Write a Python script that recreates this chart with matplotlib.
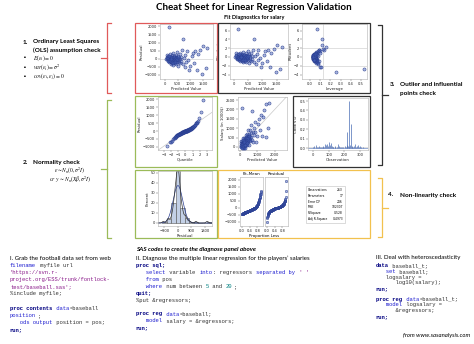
import matplotlib
matplotlib.use('Agg')
import matplotlib.pyplot as plt
import matplotlib.patches as mpatches
from matplotlib.lines import Line2D
import numpy as np
from statistics import NormalDist

W, H = 474, 344

pred = [60, 80, 95, 110, 120, 130, 140, 150, 155, 165, 170, 180, 190, 200, 205, 215, 225, 230, 240, 250,
        255, 265, 270, 280, 290, 300, 305, 315, 320, 330, 340, 350, 360, 370, 380, 390, 400, 410, 420, 430,
        440, 450, 460, 470, 480, 490, 500, 515, 530, 545, 560, 575, 590, 610, 630, 650, 670, 700, 720, 750,
        780, 800, 830, 860, 900, 950, 1000, 1050, 1100, 1150, 1200, 1250, 1300, 1400, 1480, 1500, 1620, 1680,
        45, 70, 100, 135, 185, 210, 235, 260, 285, 310, 335, 355, 385, 415, 445, 475, 505, 225, 175, 320, 255, 395]
resid = [250, 120, -40, 30, -90, 180, -150, 1950, 60, -20, -220, 90, -110, 10, 280, -60, -300, 140, -170, 40,
         -80, 220, -250, -10, 110, -140, -360, 60, -40, 330, -200, 0, -100, 170, -280, 80, -60, -160, 250, -20,
         -330, 120, -120, 30, -230, 400, -70, 180, -420, 60, -180, -30, 300, -280, 90, -130, 520, 1200, -350, 40,
         -520, 230, -200, 480, -80, -700, -420, 150, 380, -250, 500, -680, 300, 550, -970, 800, -600, 650,
         -30, 40, -130, 20, -40, -140, 70, -30, -190, 20, -70, 110, -20, 60, -90, -10, 100, 120, 200, -240, 0, -190]
lev = [0.06, 0.05, 0.04, 0.05, 0.04, 0.06, 0.05, 0.07, 0.03, 0.04, 0.06, 0.04, 0.03, 0.05, 0.07, 0.04, 0.05, 0.03, 0.04, 0.05,
       0.06, 0.04, 0.05, 0.03, 0.04, 0.05, 0.07, 0.04, 0.03, 0.06, 0.05, 0.04, 0.06, 0.05, 0.04, 0.03, 0.05, 0.04, 0.06, 0.05,
       0.07, 0.04, 0.05, 0.03, 0.06, 0.08, 0.05, 0.04, 0.06, 0.05, 0.07, 0.04, 0.06, 0.05, 0.08, 0.06, 0.09, 0.12, 0.07, 0.05,
       0.08, 0.06, 0.07, 0.09, 0.06, 0.10, 0.08, 0.07, 0.10, 0.09, 0.14, 0.11, 0.10, 0.13, 0.25, 0.12, 0.53, 0.16,
       0.04, 0.03, 0.05, 0.03, 0.04, 0.03, 0.04, 0.03, 0.05, 0.04, 0.03, 0.04, 0.05, 0.04, 0.05, 0.04, 0.05, 0.03, 0.05, 0.04, 0.03, 0.04]

cook_obs = [3, 8, 14, 19, 25, 31, 37, 42, 48, 55, 61, 66, 72, 78, 84, 90, 95, 101, 106, 112, 118, 124, 130, 137,
            143, 149, 155, 161, 167, 173, 179, 185, 191, 197, 203, 209, 214, 218, 223, 228, 232, 236, 241, 246,
            251, 257, 263, 269, 275, 281, 287, 293, 299, 305, 311, 317]
cook_d = [0.01, 0.02, 0.005, 0.03, 0.01, 0.008, 0.02, 0.01, 0.015, 0.006, 0.01, 0.02, 0.01, 0.04, 0.03, 0.045,
          0.02, 0.06, 0.03, 0.05, 0.02, 0.01, 0.015, 0.02, 0.01, 0.005, 0.01, 0.04, 0.02, 0.01, 0.008, 0.015,
          0.01, 0.005, 0.02, 0.01, 0.03, 0.17, 0.02, 0.01, 0.50, 0.03, 0.26, 0.02, 0.01, 0.01, 0.02, 0.04,
          0.01, 0.02, 0.03, 0.01, 0.02, 0.01, 0.005, 0.01]

stat_names = ['Observations', 'Parameters', 'Error DF', 'MSE', 'R-Square', 'Adj R-Square']
stat_vals = ['263', '17', '246', '102307', '0.528', '0.4973']
n_par = 17
mse = 102307

plt.rcParams['mathtext.fontset'] = 'stix'
TXT = 'Lato'
MONO = 'Liberation Mono'
BLUE_E = '#2b3f91'
BLUE_F = (0.27, 0.38, 0.72, 0.45)
RED, GREEN, GOLD, DARK = '#e05a5a', '#9bbb59', '#f2c14e', '#333333'

fig = plt.figure(figsize=(4.74, 3.44), dpi=100)


def fx(x):
    return x / W


def fy(y):
    return 1 - y / H


def panel(x0, y0, x1, y1, xlim, ylim, xt, yt, xl='', yl=''):
    ax = fig.add_axes([fx(x0), fy(y1), (x1 - x0) / W, (y1 - y0) / H])
    ax.set_xlim(*xlim)
    ax.set_ylim(*ylim)
    ax.set_xticks(xt)
    ax.set_yticks(yt)
    ax.tick_params(labelsize=2.6, length=1.2, width=0.3, pad=0.8, colors='#555555', labelcolor='#222222')
    for s in ax.spines.values():
        s.set_linewidth(0.4)
        s.set_color('#b0b0b0')
    if xl:
        ax.set_xlabel(xl, fontsize=2.8, labelpad=0.8, color='#222222')
    if yl:
        ax.set_ylabel(yl, fontsize=2.8, labelpad=0.8, color='#222222')
    return ax


def dots(ax, x, y, s=5):
    ax.scatter(x, y, s=s, facecolor=BLUE_F, edgecolor=BLUE_E, linewidth=0.35, zorder=3)


def box(x0, y0, x1, y1, color, lw=0.9):
    fig.patches.append(mpatches.Rectangle((fx(x0), fy(y1)), (x1 - x0) / W, (y1 - y0) / H,
                                          transform=fig.transFigure, fill=False, edgecolor=color, linewidth=lw))


def seg(xs, ys, color, lw=0.9):
    fig.add_artist(Line2D([fx(v) for v in xs], [fy(v) for v in ys], color=color, linewidth=lw))


def bracket(x, y0, y1, color, side):
    # side=-1: arms go right, nub to the left ; side=1: arms go left, nub to the right
    arm = -4 * side
    seg([x + arm, x, x, x + arm], [y0, y0, y1, y1], color)
    m = (y0 + y1) / 2
    seg([x, x + 6 * side], [m, m], color)


pred = np.array(pred, float)
resid = np.array(resid, float)
lev = np.array(lev, float)
n = len(resid)
rstud = resid / np.sqrt(mse * (1 - lev))
salary = pred + resid
sigma = np.sqrt(mse)

# titles
fig.text(fx(254), fy(7), 'Cheat Sheet for Linear Regression Validation', ha='center', va='center',
         fontsize=7, fontweight='bold', family=TXT)
fig.text(fx(254), fy(18), 'Fit Diagnostics for salary', ha='center', va='center',
         fontsize=4, fontweight='bold', family=TXT)

# row 1
ax = panel(160, 24, 213, 79, (-200, 1900), (-1250, 2150), [0, 500, 1000, 1500],
           [-1000, -500, 0, 500, 1000, 1500, 2000], 'Predicted Value', 'Residual')
ax.axhline(0, color='#c8c8c8', lw=0.4)
dots(ax, pred, resid)

ax = panel(230, 24, 288, 79, (-140, 1900), (-5, 7.5), [0, 500, 1000, 1500],
           [-4, -2, 0, 2, 4, 6], 'Predicted Value', 'RStudent')
for v in (-2, 2):
    ax.axhline(v, color='#c8c8c8', lw=0.4)
dots(ax, pred, rstud)

ax = panel(302, 24, 367, 79, (-0.08, 0.56), (-5, 7.5), [0, 0.1, 0.2, 0.3, 0.4, 0.5],
           [-4, -2, 0, 2, 4, 6], 'Leverage', 'RStudent')
for v in (-2, 2):
    ax.axhline(v, color='#c8c8c8', lw=0.4)
ax.axvline(2 * n_par / 263, color='#c8c8c8', lw=0.4)
dots(ax, lev, rstud)

# row 2
q = np.array([NormalDist().inv_cdf((i + 1 - 0.375) / (n + 0.25)) for i in range(n)])
ax = panel(158, 97, 212, 150, (-3.8, 3.7), (-1200, 2150), [-3, -2, -1, 0, 1, 2, 3],
           [-1000, -500, 0, 500, 1000, 1500, 2000], 'Quantile', 'Residual')
ax.plot([-3.8, 3.7], [-3.8 * sigma, 3.7 * sigma], color='#c8c8c8', lw=0.5)
dots(ax, q, np.sort(resid))

ax = panel(238, 97, 287, 150, (-100, 2700), (-160, 2660), [0, 1000, 2000],
           [0, 500, 1000, 1500, 2000, 2500], 'Predicted Value', 'Salary (in 1000$)')
ax.plot([-100, 2700], [-100, 2700], color='#c8c8c8', lw=0.5)
dots(ax, pred, salary)

ax = panel(308, 98, 368, 150, (-32, 350), (-0.021, 0.532), [0, 100, 200, 300],
           [0.0, 0.1, 0.2, 0.3, 0.4, 0.5], 'Observation', "Cook's D")
ax.yaxis.set_major_formatter(matplotlib.ticker.FormatStrFormatter('%.1f'))
ax.axhline(4 / 263, color='#c8c8c8', lw=0.4)
ax.axhline(0, color='#4a6db5', lw=0.4)
ax.vlines(cook_obs, 0, cook_d, color='#4a6db5', lw=0.5)

# row 3
edges = np.arange(-1050, 2251, 300)
ax = panel(158, 171, 212, 226, (-1330, 2270), (-3, 52), [-900, 0, 900, 1800],
           [0, 10, 20, 30, 40, 50], 'Residual', 'Percent')
ax.hist(resid, bins=edges, weights=np.full(n, 100.0 / n), facecolor='#c3d0e6', edgecolor='#555555', linewidth=0.4)
xs = np.linspace(-1330, 2270, 300)
ax.plot(xs, 300 * 100 * np.exp(-0.5 * (xs / sigma) ** 2) / (sigma * np.sqrt(2 * np.pi)), color='#2b3f91', lw=0.5)
bw = 0.9 * min(resid.std(), (np.percentile(resid, 75) - np.percentile(resid, 25)) / 1.34) * n ** -0.2
kde = np.exp(-0.5 * ((xs[:, None] - resid[None, :]) / bw) ** 2).sum(1) / (n * bw * np.sqrt(2 * np.pi))
ax.plot(xs, 300 * 100 * kde, color='#333333', lw=0.5)

fit_mean = np.sort(pred - salary.mean())
prop = (np.arange(n) + 0.5) / n
ax = panel(240, 177, 263, 226, (-0.1, 1.1), (-1290, 2210), [0, 0.4, 0.8],
           [-1000, -500, 0, 500, 1000, 1500, 2000])
ax.xaxis.set_major_formatter(matplotlib.ticker.FormatStrFormatter('%.1f'))
dots(ax, prop, fit_mean, s=3)
ax.set_title('Fit\u2013Mean', fontsize=2.9, pad=1.5)
ax = panel(265, 177, 288, 226, (-0.1, 1.1), (-1290, 2210), [0, 0.4, 0.8], [])
ax.xaxis.set_major_formatter(matplotlib.ticker.FormatStrFormatter('%.1f'))
dots(ax, prop, np.sort(resid), s=3)
ax.set_title('Residual', fontsize=2.9, pad=1.5)
fig.text(fx(264), fy(236), 'Proportion Less', ha='center', va='center', fontsize=2.8)

box(306, 186, 345, 223, '#c0c0c0', lw=0.4)
for i, (nm, v) in enumerate(zip(stat_names, stat_vals)):
    yy = 190 + i * 5.8
    fig.text(fx(308), fy(yy), nm, fontsize=2.2, va='center')
    fig.text(fx(343), fy(yy), v, fontsize=2.2, va='center', ha='right')

# coloured frames and brackets
box(135, 23, 217, 93, RED)
box(218, 23, 370, 93, DARK)
box(135, 96, 217, 167, GREEN)
box(293, 96, 370, 167, DARK)
box(135, 170, 217, 238, GREEN)
box(218, 170, 370, 238, GOLD)
bracket(107, 23, 93, RED, -1)
bracket(107, 100, 238, GREEN, -1)
bracket(382, 25, 165, DARK, 1)
bracket(382, 178, 237, GOLD, 1)

# left annotations
fig.text(fx(23), fy(42), '1.', fontsize=4.6, fontweight='bold', va='center', family=TXT)
fig.text(fx(33), fy(42), 'Ordinary Least Squares', fontsize=4.6, fontweight='bold', va='center', family=TXT)
fig.text(fx(33), fy(50), '(OLS) assumption check', fontsize=4.6, fontweight='bold', va='center', family=TXT)
for yy, s in [(58, r'$E(\varepsilon_i) = 0$'), (67.2, r'$var(\varepsilon_i) = \sigma^2$'),
              (76.4, r'$cov(\varepsilon_i, \varepsilon_j) = 0$')]:
    fig.text(fx(23), fy(yy), '\u2022', fontsize=4.6, va='center')
    fig.text(fx(33), fy(yy), s, fontsize=4.1, va='center')
fig.text(fx(23), fy(163), '2.', fontsize=4.6, fontweight='bold', va='center', family=TXT)
fig.text(fx(33), fy(163), 'Normality check', fontsize=4.6, fontweight='bold', va='center', family=TXT)
fig.text(fx(70), fy(170.5), r'$\varepsilon \sim N_n(0, \sigma^2 I)$', fontsize=4.0, ha='center', va='center')
fig.text(fx(70), fy(179), r'$or\ y\ \sim N_n(X\beta, \sigma^2 I)$', fontsize=4.0, ha='center', va='center')

fig.text(fx(390), fy(85), '3.', fontsize=4.6, fontweight='bold', va='center', family=TXT)
fig.text(fx(400), fy(85), 'Outlier and influential', fontsize=4.6, fontweight='bold', va='center', family=TXT)
fig.text(fx(400), fy(94), 'points check', fontsize=4.6, fontweight='bold', va='center', family=TXT)
fig.text(fx(388), fy(195), '4.', fontsize=4.6, fontweight='bold', va='center', family=TXT)
fig.text(fx(400), fy(195), 'Non-linearity check', fontsize=4.6, fontweight='bold', va='center', family=TXT)

# SAS code blocks
KW, ST, S, NUM, T = '#000080', '#1f1fd0', '#8a1a8a', '#008080', '#333333'
code_I = [[('filename', ST), (' myfile url', T)],
          [("'https://svn.r-", S)],
          [('project.org/ESS/trunk/fontlock-', S)],
          [("test/baseball.sas';", S)],
          [('%include myfile;', T)],
          [],
          [('proc contents', KW), (' data', ST), ('=baseball', T)],
          [('position', ST), (';', T)],
          [('   ods output', ST), (' position = pos;', T)],
          [('run;', KW)]]
code_II = [[('proc sql;', KW)],
           [('   select', ST), (' variable ', T), ('into', ST), (': regressors ', T), ('separated by', ST), (" ' '", S)],
           [('   from', ST), (' pos', T)],
           [('   where', ST), (' num between ', T), ('5', NUM), (' and ', T), ('20', NUM), (';', T)],
           [('quit;', KW)],
           [('%put &regressors;', T)],
           [],
           [('proc reg', KW), (' data', ST), ('=baseball;', T)],
           [('   model', ST), (' salary = &regressors;', T)],
           [('run;', KW)]]
code_III = [[('data', KW), (' baseball_t;', T)],
            [('   set', ST), (' baseball;', T)],
            [('   logsalary =', T)],
            [('      log10(salary);', T)],
            [('run;', KW)],
            [],
            [('proc reg', KW), (' data', ST), ('=baseball_t;', T)],
            [('   model', ST), (' logsalary =', T)],
            [('      &regressors;', T)],
            [('run;', KW)]]

CFS = 4.0
CW = 0.6 * CFS * 100 / 72


def code(x, y0, dy, lines, blank):
    y = y0
    for ln in lines:
        if not ln:
            y += blank
            continue
        col = 0
        for txt, c in ln:
            fig.text(fx(x + col * CW), fy(y), txt, fontsize=CFS, family=MONO, color=c, va='center',
                     fontweight='bold' if c == KW else 'normal')
            col += len(txt)
        y += dy


fig.text(fx(136), fy(249), 'SAS codes to create the diagnose panel above', fontsize=4.5, fontweight='bold',
         style='italic', va='center', family=TXT)
fig.text(fx(10), fy(258), 'I. Grab the football data set from web', fontsize=4.4, va='center', family=TXT)
fig.text(fx(136), fy(258), "II. Diagnose the multiple linear regression for the players\u2019 salaries",
         fontsize=4.4, va='center', family=TXT)
fig.text(fx(376), fy(258), 'III. Deal with heteroscedasticity', fontsize=4.4, va='center', family=TXT)
code(10, 265.5, 7.1, code_I, 7.5)
code(136, 265.5, 7.0, code_II, 6.5)
code(376, 265.5, 5.8, code_III, 4.5)
fig.text(fx(470), fy(335), 'from www.sasanalysis.com', fontsize=4.3, style='italic', ha='right', va='center',
         family=TXT)

fig.savefig('out.png', dpi=100)
